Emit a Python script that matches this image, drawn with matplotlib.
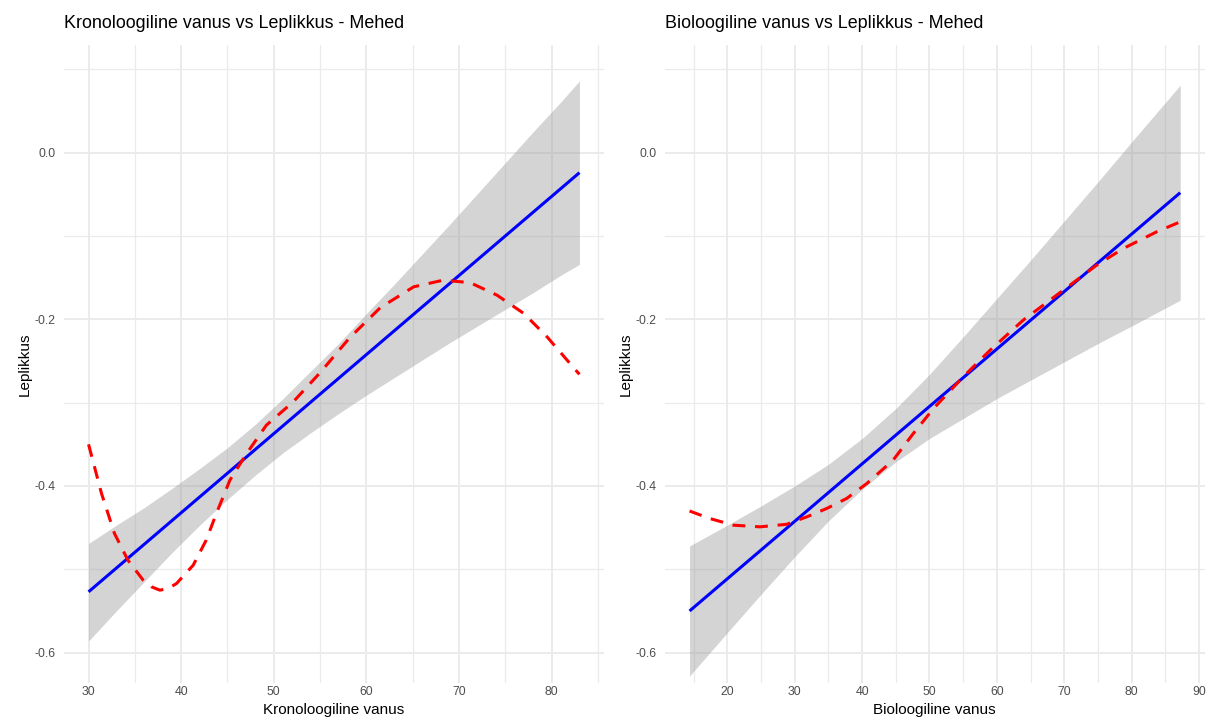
import matplotlib
matplotlib.use("Agg")
import matplotlib.pyplot as plt
import numpy as np
from matplotlib.ticker import FixedLocator

plt.rcParams['font.family'] = ['Liberation Sans', 'DejaVu Sans']

# ---------------- data ----------------
# Left panel: chronological age
kron_line_x = [30.0, 83.0]
kron_line_y = [-0.527, -0.024]
kron_band_x = [30, 33, 36, 39, 42, 45, 48, 51, 54, 57, 60, 63, 66, 69, 72, 75, 78, 81, 83]
kron_band_lo = [-0.586, -0.550, -0.515, -0.480, -0.447, -0.416, -0.387, -0.360, -0.336,
                -0.313, -0.291, -0.270, -0.249, -0.228, -0.208, -0.188, -0.168, -0.147, -0.134]
kron_band_hi = [-0.469, -0.447, -0.426, -0.403, -0.379, -0.354, -0.326, -0.295, -0.262,
                -0.229, -0.193, -0.158, -0.122, -0.086, -0.049, -0.012, 0.025, 0.061, 0.086]
kron_curve_x = [30, 31.4, 32.8, 34.25, 35.9, 36.8, 37.7, 38.6, 39.5, 41.3, 42.7, 43.8, 45.26,
                47.07, 49.2, 52.1, 55.0, 58.2, 61.5, 65.1, 68.3, 71.2, 74.1, 77.0, 79.5, 82.6, 83]
kron_curve_y = [-0.350, -0.409, -0.457, -0.489, -0.513, -0.521, -0.525, -0.523, -0.517,
                -0.495, -0.465, -0.433, -0.393, -0.361, -0.327, -0.299, -0.264, -0.222,
                -0.186, -0.161, -0.153, -0.156, -0.171, -0.193, -0.221, -0.261, -0.266]

# Right panel: biological age
bio_line_x = [14.4, 87.2]
bio_line_y = [-0.550, -0.048]
bio_band_x = [14.4, 20, 25, 30, 35, 40, 45, 50, 55, 60, 65, 70, 75, 80, 87.2]
bio_band_lo = [-0.628, -0.576, -0.530, -0.485, -0.442, -0.404, -0.371, -0.343, -0.319,
               -0.295, -0.273, -0.251, -0.229, -0.208, -0.177]
bio_band_hi = [-0.472, -0.447, -0.424, -0.400, -0.374, -0.343, -0.307, -0.266, -0.221,
               -0.175, -0.129, -0.082, -0.035, 0.013, 0.081]
bio_curve_x = [14.4, 17.4, 20.9, 24.85, 28.8, 31.8, 34.75, 37.7, 40.7, 44.6, 47.6, 50.6,
               55.0, 59.0, 63.9, 69.85, 74.8, 78.75, 83.7, 87.2]
bio_curve_y = [-0.430, -0.439, -0.447, -0.449, -0.446, -0.437, -0.427, -0.415, -0.397,
               -0.369, -0.337, -0.307, -0.269, -0.237, -0.201, -0.165, -0.135, -0.115,
               -0.095, -0.083]

titles = ["Kronoloogiline vanus vs Leplikkus - Mehed", "Bioloogiline vanus vs Leplikkus - Mehed"]
xlabels = ["Kronoloogiline vanus", "Bioloogiline vanus"]
ylabel = "Leplikkus"
y_ticks = [-0.6, -0.4, -0.2, 0.0]
y_ticklabels = ["-0.6", "-0.4", "-0.2", "0.0"]
kron_xticks = [30, 40, 50, 60, 70, 80]
bio_xticks = [20, 30, 40, 50, 60, 70, 80, 90]

# ---------------- figure ----------------
W, H = 1209, 724
fig = plt.figure(figsize=(W / 100, H / 100), dpi=100)
fig.patch.set_facecolor('white')

def px_axes(x0, x1, y0, y1):
    return fig.add_axes([x0 / W, 1 - y1 / H, (x1 - x0) / W, (y1 - y0) / H])

ax1 = px_axes(64, 604, 45, 683)
ax2 = px_axes(665, 1204.5, 45, 683)

grid_col = '#EBEBEB'
panels = [
    (ax1, kron_line_x, kron_line_y, kron_band_x, kron_band_lo, kron_band_hi, kron_curve_x,
     kron_curve_y, (27.35, 85.65), kron_xticks, [35, 45, 55, 65, 75, 85]),
    (ax2, bio_line_x, bio_line_y, bio_band_x, bio_band_lo, bio_band_hi, bio_curve_x,
     bio_curve_y, (10.76, 90.8), bio_xticks, [15, 25, 35, 45, 55, 65, 75, 85]),
]

for i, (ax, lx, ly, bx, blo, bhi, cx, cy, xlim, xt, xmin_t) in enumerate(panels):
    ax.set_facecolor('white')
    for s in ax.spines.values():
        s.set_visible(False)
    ax.set_xlim(*xlim)
    ax.set_ylim(-0.6364, 0.1292)
    ax.xaxis.set_major_locator(FixedLocator(xt))
    ax.xaxis.set_minor_locator(FixedLocator(xmin_t))
    ax.yaxis.set_major_locator(FixedLocator(y_ticks))
    ax.yaxis.set_minor_locator(FixedLocator([-0.5, -0.3, -0.1, 0.1]))
    ax.set_yticklabels(y_ticklabels)
    ax.set_xticklabels([str(v) for v in xt])
    ax.grid(True, which='major', color=grid_col, linewidth=1.4)
    ax.grid(True, which='minor', color=grid_col, linewidth=0.9)
    ax.set_axisbelow(True)
    ax.tick_params(which='both', length=0, colors='#4D4D4D', labelsize=8.8)
    ax.tick_params(axis='y', pad=6)
    ax.tick_params(axis='x', pad=2.5)

    ax.fill_between(bx, blo, bhi, color='#999999', alpha=0.42, linewidth=0, zorder=2)
    ax.plot(lx, ly, color='#0000FF', linewidth=2.2, solid_capstyle='butt', zorder=3)
    ax.plot(cx, cy, color='#FF0000', linewidth=2.2, dashes=(4.2, 3.2), zorder=4)

    ax.set_xlabel(xlabels[i], fontsize=11, color='black', labelpad=3)
    ax.set_ylabel(ylabel, fontsize=11, color='black', labelpad=2)
    ax.set_title(titles[i], loc='left', fontsize=12.9, color='black', pad=12)

fig.savefig('out.png', dpi=100, facecolor='white')
